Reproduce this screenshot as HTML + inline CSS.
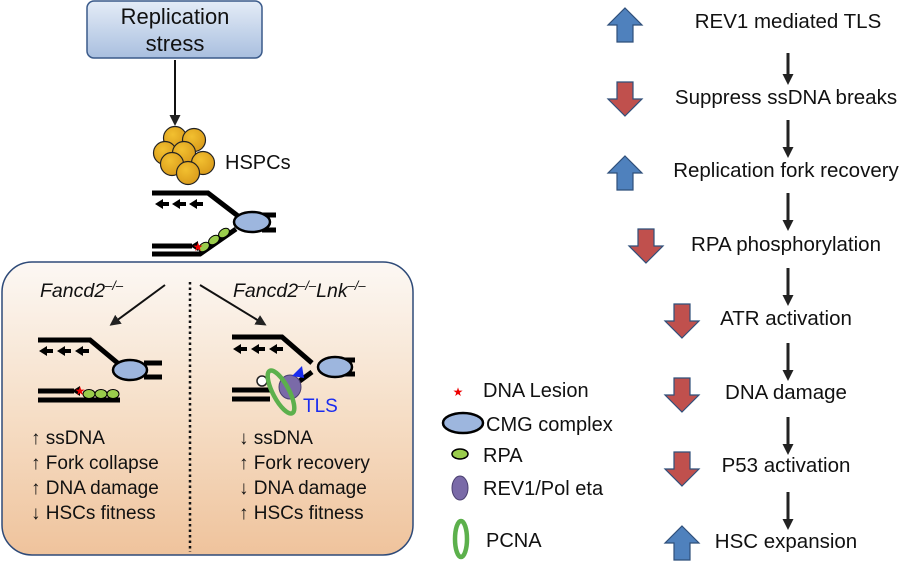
<!DOCTYPE html>
<html><head><meta charset="utf-8"><style>
html,body{margin:0;padding:0;background:#fff;}
svg{display:block;font-family:"Liberation Sans",Arial,sans-serif;}
</style></head><body>
<svg width="900" height="561" viewBox="0 0 900 561" xmlns="http://www.w3.org/2000/svg">
<defs>
<linearGradient id="bx" x1="0" y1="0" x2="0" y2="1">
<stop offset="0" stop-color="#e4ecf7"/><stop offset="1" stop-color="#a9bfdf"/></linearGradient>
<linearGradient id="bg" x1="0" y1="0" x2="0" y2="1">
<stop offset="0" stop-color="#fcf8f4"/><stop offset="0.5" stop-color="#f6dfc8"/><stop offset="1" stop-color="#efc39c"/></linearGradient>
<marker id="ah" markerWidth="11" markerHeight="11" refX="8" refY="5.5" orient="auto" markerUnits="userSpaceOnUse">
<path d="M0,0 L11,5.5 L0,11 Z" fill="#222"/></marker>
<radialGradient id="cell" cx="0.4" cy="0.35" r="0.7"><stop offset="0" stop-color="#f2c030"/><stop offset="1" stop-color="#d99a1a"/></radialGradient>
<g id="up"><path d="M0,-17 L17,0 L8,0 L8,17 L-8,17 L-8,0 L-17,0 Z" fill="#4f81bd" stroke="#2f4f7a" stroke-width="1.2"/></g>
<g id="dn"><path d="M0,17 L17,0 L8,0 L8,-17 L-8,-17 L-8,0 L-17,0 Z" fill="#c0504d" stroke="#2f4f7a" stroke-width="1.2"/></g>
<g id="la"><path d="M0,0 L8,-5 L8,-2 L14,-2 L14,2 L8,2 L8,5 Z" fill="#000"/></g>
</defs>

<rect x="87" y="1" width="175" height="57" rx="7" fill="url(#bx)" stroke="#3a5a8a" stroke-width="1.5"/>
<text x="175" y="24" font-size="22" text-anchor="middle" fill="#111">Replication</text>
<text x="175" y="51" font-size="22" text-anchor="middle" fill="#111">stress</text>
<line x1="175" y1="60" x2="175" y2="123" stroke="#111" stroke-width="2" marker-end="url(#ah)"/>

<g stroke="#222" stroke-width="1.2" fill="url(#cell)">
<circle cx="175" cy="138" r="11.5"/><circle cx="194" cy="140" r="11.5"/>
<circle cx="165" cy="153" r="11.5"/><circle cx="184" cy="153" r="11.5"/>
<circle cx="203" cy="163" r="11.5"/><circle cx="172" cy="164" r="11.5"/>
<circle cx="188" cy="173" r="11.5"/>
</g>
<text x="225" y="169" font-size="20" fill="#111">HSPCs</text>

<g stroke="#000" stroke-width="5" fill="none">
<polyline points="152,193 208,193 238,216"/>
<polyline points="152,254 200,254 236,229"/>
<line x1="152" y1="246" x2="192" y2="246"/>
<line x1="262" y1="215" x2="276" y2="215"/><line x1="262" y1="230" x2="276" y2="230"/>
</g>
<path d="M190,246 L198,241 L198,251Z" fill="#000"/>
<use href="#la" x="155" y="204"/><use href="#la" x="172" y="204"/><use href="#la" x="189" y="204"/>
<ellipse cx="252" cy="222" rx="18" ry="10" fill="#9db6de" stroke="#000" stroke-width="2.5"/>
<g fill="#9acd4c" stroke="#000" stroke-width="1">
<ellipse cx="204" cy="247" rx="6" ry="4" transform="rotate(-35 204 247)"/>
<ellipse cx="214" cy="240" rx="6" ry="4" transform="rotate(-35 214 240)"/>
<ellipse cx="224" cy="233" rx="6" ry="4" transform="rotate(-35 224 233)"/>
</g>
<text x="198" y="251" font-size="12" fill="#e00" text-anchor="middle">★</text>

<rect x="2" y="262" width="411" height="293" rx="30" fill="url(#bg)" stroke="#2e4a78" stroke-width="1.5"/>
<line x1="190" y1="282" x2="190" y2="552" stroke="#111" stroke-width="2.5" stroke-dasharray="2.5,3"/>
<text x="40" y="297" font-size="19.5" font-style="italic" fill="#111">Fancd2<tspan font-size="13" dy="-7">–/–</tspan></text>
<text x="233" y="297" font-size="19.5" font-style="italic" fill="#111">Fancd2<tspan font-size="13" dy="-7">–/–</tspan><tspan dy="7">Lnk</tspan><tspan font-size="13" dy="-7">–/–</tspan></text>
<line x1="165" y1="285" x2="112" y2="324" stroke="#111" stroke-width="2" marker-end="url(#ah)"/>
<line x1="200" y1="285" x2="264" y2="324" stroke="#111" stroke-width="2" marker-end="url(#ah)"/>

<g stroke="#000" stroke-width="5" fill="none">
<polyline points="38,340 90,340 120,365"/>
<line x1="38" y1="400" x2="120" y2="400"/>
<line x1="38" y1="391" x2="74" y2="391"/>
<line x1="144" y1="363" x2="162" y2="363"/><line x1="144" y1="377" x2="162" y2="377"/>
</g>
<path d="M72,391 L80,386 L80,396Z" fill="#000"/>
<use href="#la" x="39" y="351"/><use href="#la" x="57" y="351"/><use href="#la" x="75" y="351"/>
<ellipse cx="130" cy="370" rx="17" ry="10" fill="#9db6de" stroke="#000" stroke-width="2.5"/>
<g fill="#9acd4c" stroke="#000" stroke-width="1">
<ellipse cx="89" cy="394" rx="6" ry="4.5"/><ellipse cx="101" cy="394" rx="6" ry="4.5"/><ellipse cx="113" cy="394" rx="6" ry="4.5"/>
</g>
<text x="80" y="395" font-size="12" fill="#e00" text-anchor="middle">★</text>

<g stroke="#000" stroke-width="5" fill="none">
<polyline points="232,337 282,337 312,363"/>
<line x1="232" y1="390" x2="270" y2="390"/>
<line x1="232" y1="399" x2="270" y2="399"/>
<line x1="290" y1="388" x2="312" y2="372"/>
<line x1="338" y1="360" x2="355" y2="360"/><line x1="338" y1="374" x2="355" y2="374"/>
</g>
<use href="#la" x="233" y="349"/><use href="#la" x="251" y="349"/><use href="#la" x="269" y="349"/>
<ellipse cx="335" cy="367" rx="17" ry="10" fill="#9db6de" stroke="#000" stroke-width="2.5"/>
<circle cx="262" cy="381" r="5" fill="#fff" stroke="#222" stroke-width="1.5"/>
<ellipse cx="290" cy="387" rx="11" ry="12" fill="#7a6aa8" stroke="#4a3f70" stroke-width="1"/>
<ellipse cx="281" cy="392" rx="8" ry="24" transform="rotate(-28 281 392)" fill="none" stroke="#5cb04c" stroke-width="4.5"/>
<path d="M292,376 L302,366 L304,378Z" fill="#1a2cf0"/>
<text x="303" y="412" font-size="19" fill="#1a2cf0">TLS</text>

<g font-size="19" fill="#111">
<text x="31" y="444">↑ ssDNA</text>
<text x="31" y="469">↑ Fork collapse</text>
<text x="31" y="494">↑ DNA damage</text>
<text x="31" y="519">↓ HSCs fitness</text>
<text x="239" y="444">↓ ssDNA</text>
<text x="239" y="469">↑ Fork recovery</text>
<text x="239" y="494">↓ DNA damage</text>
<text x="239" y="519">↑ HSCs fitness</text>
</g>

<text x="458" y="396" font-size="12" fill="#e00" text-anchor="middle">★</text>
<ellipse cx="463" cy="423" rx="20" ry="10" fill="#9db6de" stroke="#000" stroke-width="2.5"/>
<ellipse cx="460" cy="454" rx="8" ry="5" fill="#9acd4c" stroke="#000" stroke-width="1.5"/>
<ellipse cx="460" cy="488" rx="8" ry="12" fill="#7a6aa8" stroke="#4a3f70" stroke-width="1"/>
<ellipse cx="461" cy="539" rx="6" ry="18" fill="none" stroke="#5cb04c" stroke-width="4.5"/>
<g font-size="20" fill="#111">
<text x="483" y="397">DNA Lesion</text>
<text x="486" y="431">CMG complex</text>
<text x="483" y="462">RPA</text>
<text x="483" y="495">REV1/Pol eta</text>
<text x="486" y="547">PCNA</text>
</g>

<use href="#up" x="625" y="25"/>
<use href="#dn" x="625" y="99"/>
<use href="#up" x="625" y="173"/>
<use href="#dn" x="646" y="246"/>
<use href="#dn" x="682" y="321"/>
<use href="#dn" x="682" y="395"/>
<use href="#dn" x="682" y="469"/>
<use href="#up" x="682" y="543"/>
<g font-size="20.5" fill="#111" text-anchor="middle">
<text x="788" y="28">REV1 mediated TLS</text>
<text x="786" y="104">Suppress ssDNA breaks</text>
<text x="786" y="177">Replication fork recovery</text>
<text x="786" y="251">RPA phosphorylation</text>
<text x="786" y="325">ATR activation</text>
<text x="786" y="399">DNA damage</text>
<text x="786" y="472">P53 activation</text>
<text x="786" y="548">HSC expansion</text>
</g>
<g stroke="#222" stroke-width="3" marker-end="url(#ah)">
<line x1="788" y1="53" x2="788" y2="82"/>
<line x1="788" y1="120" x2="788" y2="155"/>
<line x1="788" y1="193" x2="788" y2="228"/>
<line x1="788" y1="268" x2="788" y2="303"/>
<line x1="788" y1="343" x2="788" y2="378"/>
<line x1="788" y1="417" x2="788" y2="452"/>
<line x1="788" y1="492" x2="788" y2="527"/>
</g>
</svg>
</body></html>
